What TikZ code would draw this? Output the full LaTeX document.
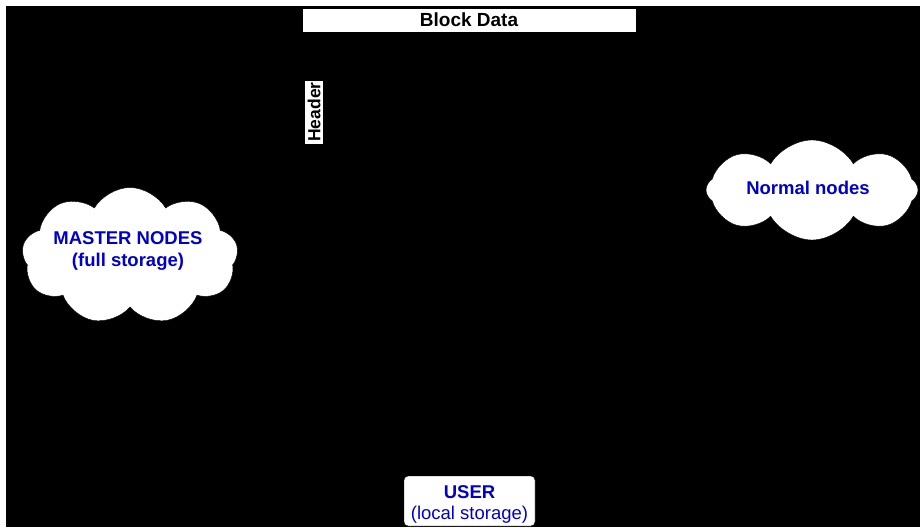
\documentclass[tikz,border=0pt]{standalone}
\usepackage{fontspec}
\setmainfont{Liberation Sans}
\usetikzlibrary{shapes.symbols}
\definecolor{nodeblue}{RGB}{0,0,204}
\begin{document}
\begin{tikzpicture}[x=1pt,y=-1pt,
  labelbox/.style={fill=white,draw=black,inner sep=0pt,
    font=\fontsize{19}{22}\selectfont\bfseries},
  netcloud/.style={cloud,cloud puffs=9,cloud puff arc=120,
    fill=white,draw=black,inner sep=0pt},
  cloudtext/.style={text=nodeblue,align=center,inner sep=0pt,
    font=\fontsize{18.5}{22}\selectfont\bfseries}]
\useasboundingbox (0,0) rectangle (920,527);
\fill[white] (0,0) rectangle (920,527);
\fill[black] (6,6) rectangle (920,527);

% chain data
\node[labelbox,minimum width=334pt,minimum height=24pt] (block) at (469,20) {Block Data};
\node[labelbox,minimum width=64pt,minimum height=19pt,rotate=90,
  font=\fontsize{17.5}{20}\selectfont\bfseries] (header) at (314,112) {Header};

% networks
\node[netcloud,aspect=1.58,minimum width=216pt,minimum height=137pt] (master) at (130,256) {};
\node[cloudtext] (mastertext) at (128,251) {MASTER NODES\\(full storage)};
\node[netcloud,cloud puffs=8,aspect=2.12,minimum width=212pt,minimum height=100pt] (normal) at (812,190) {};
\node[cloudtext] (normaltext) at (808,188) {Normal nodes};

% user
\node[fill=white,draw=black,rounded corners=4pt,minimum width=131pt,minimum height=50pt,
  inner sep=0pt,text=nodeblue,align=center,font=\fontsize{18.5}{21}\selectfont] (user)
  at (469.5,501) {\rule{0pt}{19.3pt}\bfseries USER\\(local storage)};
\end{tikzpicture}
\end{document}
